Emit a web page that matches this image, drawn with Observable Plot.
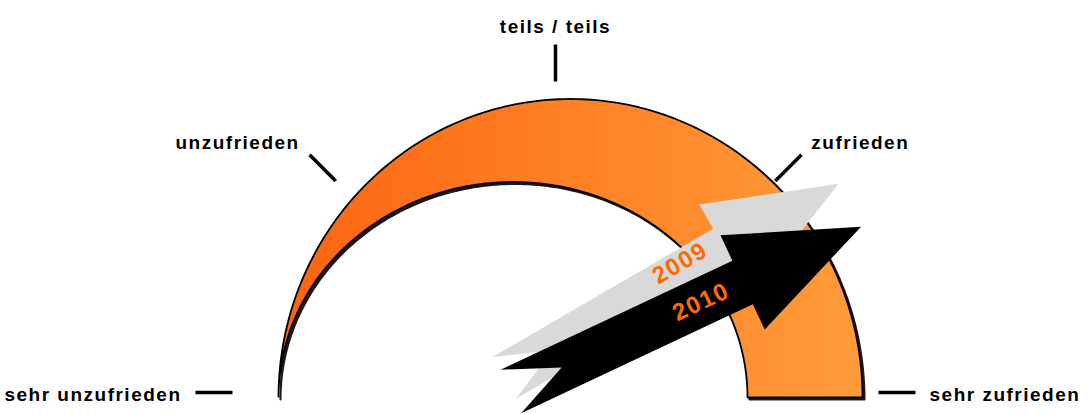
<!DOCTYPE html>
<html>
<head>
<meta charset="utf-8">
<script src="https://cdn.jsdelivr.net/npm/d3@7"></script>
<script src="https://cdn.jsdelivr.net/npm/@observablehq/plot@0.6"></script>
<style>
  html, body { margin: 0; padding: 0; background: #ffffff; }
  #chart svg { display: block; }
</style>
</head>
<body>
<div id="chart"></div>
<script>
// ---------------- data ----------------
const categories = ["sehr unzufrieden", "unzufrieden", "teils / teils", "zufrieden", "sehr zufrieden"];
const scaleValues = [1, 2, 3, 4, 5];
const years = ["2009", "2010"];
const meanValues = [4.33, 4.44];

// ---------------- layout / styling ----------------
const W = 1090, H = 414;
const angle = d3.scaleLinear([1, 5], [180, 0]);   // value -> gauge angle (deg)
const rad = d => d * Math.PI / 180;

const outerArc = {cx: 570, rx: 292, ry: 298.5};
const innerArc = {cx: 512.5, rx: 234.5, ry: 215.5};
const tickRing = {cx: 555, cy: 5, rx: 323, ry: 311, exp: 1.8, len: 37, gapX: 14, gapY: 20};
const arrowPivot = {x: 353, y: -68, offset: 174};
const arrowShape = [[0, 24], [256, 24], [256, 52], [387, 0], [256, -52], [256, -24], [0, -24], [56, 0]];
const yearLabelPos = {u: 210, liftFirst: 11};

// gauge outline (outer semi-ellipse, then inner semi-ellipse back)
const N = 160;
const gauge = [];
for (let i = 0; i <= N; i++) {
  const t = Math.PI - Math.PI * i / N;
  gauge.push({x: outerArc.cx + outerArc.rx * Math.cos(t), y: outerArc.ry * Math.sin(t)});
}
for (let i = 0; i <= N; i++) {
  const t = Math.PI * i / N;
  gauge.push({x: innerArc.cx + innerArc.rx * Math.cos(t), y: innerArc.ry * Math.sin(t)});
}

// tick marks and labels (placed on a superellipse around the gauge)
const sp = v => Math.sign(v) * Math.pow(Math.abs(v), 2 / tickRing.exp);
const ticks = categories.map((label, i) => {
  const a = rad(angle(scaleValues[i]));
  const c = Math.cos(a), s = Math.sin(a);
  const x1 = tickRing.cx + tickRing.rx * sp(c), y1 = tickRing.cy + tickRing.ry * sp(s);
  const x2 = x1 + tickRing.len * c, y2 = y1 + tickRing.len * s;
  return {label, c, x1, y1, x2, y2, lx: x2 + tickRing.gapX * c, ly: y2 + tickRing.gapY * s};
});
const anchorOf = d => d.c < -0.2 ? "end" : d.c > 0.2 ? "start" : "middle";

// arrows
const arrowPts = [];
const yearLabels = [];
years.forEach((yr, i) => {
  const deg = angle(meanValues[i]);
  const a = rad(deg), c = Math.cos(a), s = Math.sin(a);
  const ox = arrowPivot.x + arrowPivot.offset * c, oy = arrowPivot.y + arrowPivot.offset * s;
  arrowShape.forEach(([u, v]) => arrowPts.push({year: yr, x: ox + u * c - v * s, y: oy + u * s + v * c}));
  const v = i === 0 ? yearLabelPos.liftFirst : 0;
  yearLabels.push({year: yr, x: ox + yearLabelPos.u * c - v * s, y: oy + yearLabelPos.u * s + v * c, rotate: -deg});
});

function gradientDefs() {
  const ns = "http://www.w3.org/2000/svg";
  const defs = document.createElementNS(ns, "defs");
  const g = document.createElementNS(ns, "linearGradient");
  g.setAttribute("id", "gaugeGrad");
  g.setAttribute("x1", "0"); g.setAttribute("y1", "0");
  g.setAttribute("x2", "1"); g.setAttribute("y2", "0");
  [["0", "#fb6410"], ["0.5", "#fe8125"], ["1", "#ff9c3a"]].forEach(([o, c]) => {
    const st = document.createElementNS(ns, "stop");
    st.setAttribute("offset", o);
    st.setAttribute("stop-color", c);
    g.appendChild(st);
  });
  defs.appendChild(g);
  return defs;
}

const font = "'Liberation Sans', Arial, Helvetica, sans-serif";

const chart = Plot.plot({
  width: W,
  height: H,
  margin: 0,
  style: {fontFamily: font, letterSpacing: "1.5px", background: "#ffffff", overflow: "visible"},
  x: {domain: [0, W], axis: null},
  y: {domain: [-17, 397], axis: null},
  color: {domain: years, range: ["#d9d9d9", "#000000"]},
  marks: [
    () => gradientDefs(),
    // shadow
    Plot.line(gauge, {x: "x", y: "y", curve: "linear-closed", fill: "#1a1a1a", stroke: "#1a1a1a", strokeWidth: 2, dx: 2, dy: 2}),
    // gauge body
    Plot.line(gauge, {x: "x", y: "y", curve: "linear-closed", fill: "url(#gaugeGrad)", stroke: "#000000", strokeWidth: 1.8, strokeLinejoin: "miter"}),
    // arrows
    Plot.line(arrowPts, {x: "x", y: "y", z: "year", fill: "year", stroke: "none", curve: "linear-closed"}),
    Plot.text(yearLabels, {x: "x", y: "y", text: "year", rotate: "rotate", fill: "#ff6a00", fontSize: 24, fontWeight: "bold", fontFamily: font, ariaLabel: "year-labels"}),
    // ticks
    Plot.link(ticks, {x1: "x1", y1: "y1", x2: "x2", y2: "y2", stroke: "#000000", strokeWidth: 3.5, strokeLinecap: "butt"}),
    ...["start", "middle", "end"].map(a =>
      Plot.text(ticks.filter(d => anchorOf(d) === a), {
        x: "lx", y: "ly", text: "label", textAnchor: a, dy: 2,
        fill: "#000000", fontSize: 19, fontWeight: "bold", fontFamily: font
      })
    )
  ]
});

d3.select(chart).selectAll('g[aria-label="year-labels"]').style("letter-spacing", "1px");
document.getElementById("chart").appendChild(chart);
</script>
</body>
</html>
